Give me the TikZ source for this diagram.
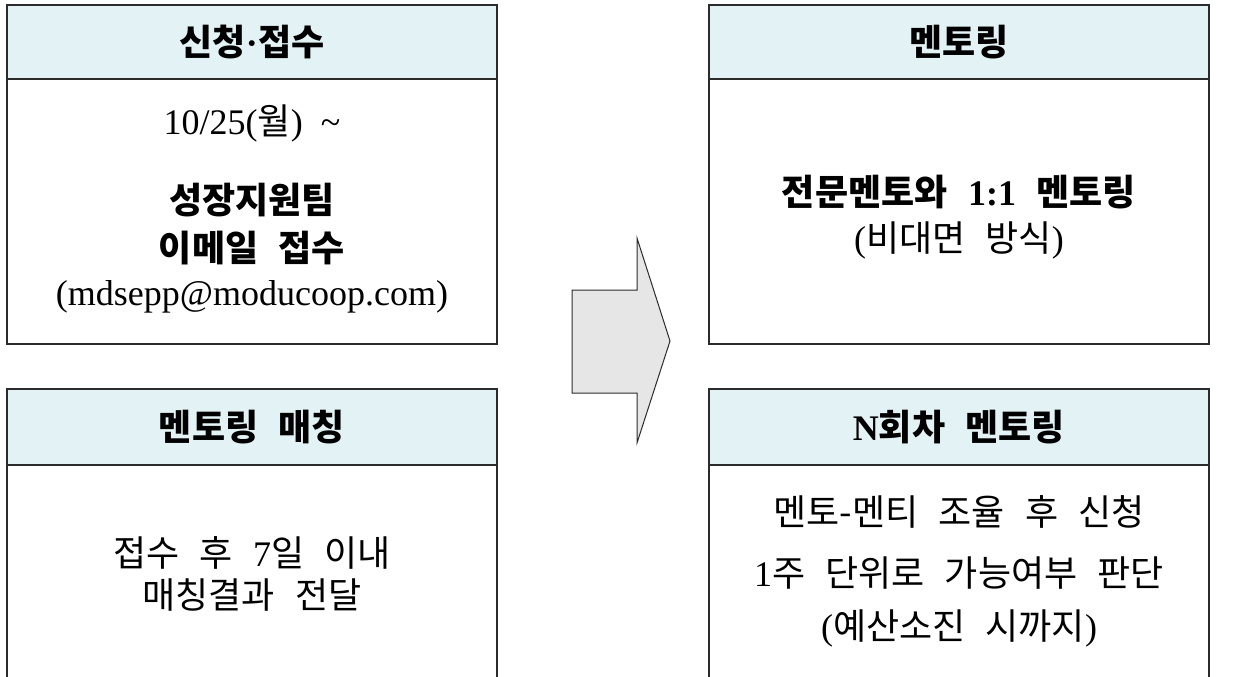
\documentclass[tikz,border=0pt]{standalone}
\usepackage{fontspec}
\setmainfont{Liberation Serif}
\newfontfamily\kr[WordSpace=2.5]{Noto Sans CJK KR}
\newcommand{\K}[1]{{\kr #1}}
\definecolor{hdr}{HTML}{E3F2F4}
\definecolor{arrowfill}{HTML}{E6E6E6}
\definecolor{edge}{HTML}{2B2B2B}
\begin{document}
\begin{tikzpicture}[x=0.5pt,y=-0.5pt,
  box/.style={draw=edge, line width=0.75pt, inner sep=0pt, outer sep=0pt, anchor=north west},
  hbox/.style={box, fill=hdr, font=\fontsize{18}{22}\selectfont\bfseries},
  txt/.style={inner sep=0pt, font=\fontsize{18}{22}\selectfont},
  btxt/.style={txt, font=\fontsize{18}{22}\selectfont\bfseries},
  bigarrow/.style={draw=edge, fill=arrowfill, line width=0.5pt, line join=miter}
]
\clip (0,0) rectangle (1238,676);
\fill[white] (0,0) rectangle (1238,676);
% top-left
\node[hbox, minimum width=245pt, minimum height=37pt] (h1) at (7,5) {\K{신청}\textperiodcentered\K{접수}};
\node[box, minimum width=245pt, minimum height=132.5pt] (b1) at (7,79) {};
\node[txt] (t1a) at (252,123) {10/25(\K{월})\ \ \textasciitilde};
\node[btxt] (t1b) at (252,200) {\K{성장지원팀}};
\node[btxt] (t1c) at (252,248) {\K{이메일 접수}};
\node[txt] (t1d) at (252,297) {(mdsepp@moducoop.com)};
% bottom-left
\node[hbox, minimum width=245pt, minimum height=38pt] (h2) at (7,389) {\K{멘토링 매칭}};
\node[box, minimum width=245pt, minimum height=200pt] (b2) at (7,465) {};
\node[txt] (t2a) at (252,553) {\K{접수 후 }7\K{일 이내}};
\node[txt] (t2b) at (252,595) {\K{매칭결과 전달}};
% top-right
\node[hbox, minimum width=250pt, minimum height=37pt] (h3) at (709,5) {\K{멘토링}};
\node[box, minimum width=250pt, minimum height=132.5pt] (b3) at (709,79) {};
\node[btxt] (t3a) at (959,192) {\K{전문멘토와 }1:1\K{ 멘토링}};
\node[txt] (t3b) at (959,240) {(\K{비대면 방식})};
% bottom-right
\node[hbox, minimum width=250pt, minimum height=38pt] (h4) at (709,389) {N\K{회차 멘토링}};
\node[box, minimum width=250pt, minimum height=200pt] (b4) at (709,465) {};
\node[txt] (t4a) at (959,512) {\K{멘토-멘티 조율 후 신청}};
\node[txt] (t4b) at (959,573) {1\K{주 단위로 가능여부 판단}};
\node[txt] (t4c) at (959,628) {(\K{예산소진 시까지})};
% arrow
\draw[bigarrow] (572,290) -- (637,290) -- (637,238) -- (670,341) -- (637,443) -- (637,393) -- (572,393) -- cycle;
\end{tikzpicture}
\end{document}
